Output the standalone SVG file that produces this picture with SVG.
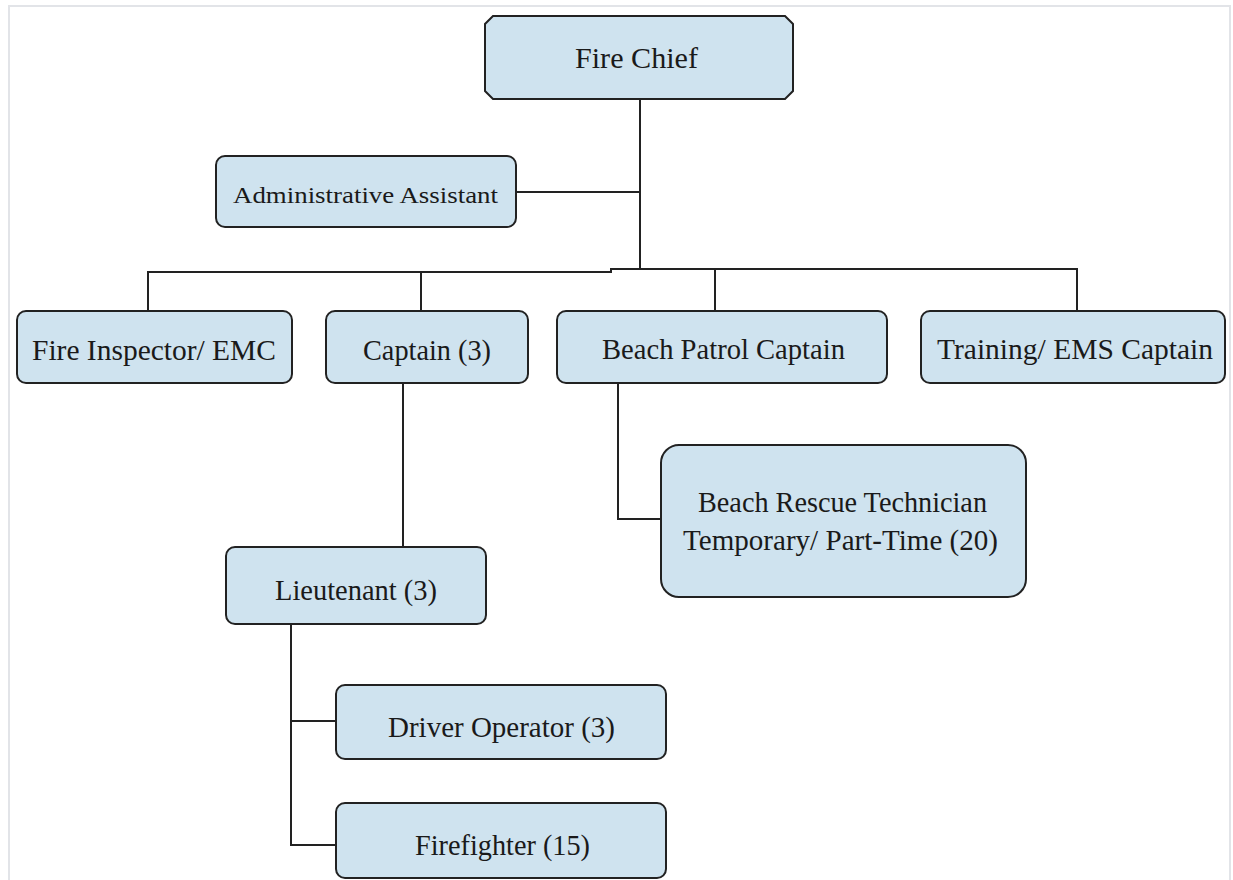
<svg xmlns="http://www.w3.org/2000/svg" width="1233" height="880" viewBox="0 0 1233 880">
  <style>
    .box { fill: #cfe3ef; stroke: #222; stroke-width: 2; }
    .lbl { font-family: "Liberation Serif", "DejaVu Serif", serif; font-size: 29px; fill: #1a1a1a; text-anchor: start; }
    .sm { font-size: 24px; }
    .wire { fill: none; stroke: #222; stroke-width: 2; }
  </style>
  <rect x="0" y="0" width="1233" height="880" fill="#ffffff"/>
  <!-- page frame -->
  <path d="M9,880 V6 H1230 V880" fill="none" stroke="#e2e4e8" stroke-width="2"/>

  <g id="connectors">
    <path class="wire" d="M640,99 V269"/>
    <path class="wire" d="M516,192 H640"/>
    <path class="wire" d="M148,311 V272 H611 V269 H1077 V311"/>
    <path class="wire" d="M421,272 V311"/>
    <path class="wire" d="M715,269 V311"/>
    <path class="wire" d="M403,383 V547"/>
    <path class="wire" d="M618,383 V519 H661"/>
    <path class="wire" d="M291,624 V845 H336"/>
    <path class="wire" d="M291,721 H336"/>
  </g>

  <g id="fire-chief">
    <path class="box" d="M493,16 H785 L793,24 V91 L785,99 H493 L485,91 V24 Z"/>
    <text class="lbl" x="575" y="68" textLength="123" lengthAdjust="spacingAndGlyphs">Fire Chief</text>
  </g>
  <g id="admin-assistant">
    <rect class="box" x="216" y="156" width="300" height="71" rx="9"/>
    <text class="lbl sm" x="233" y="203" textLength="265" lengthAdjust="spacingAndGlyphs">Administrative Assistant</text>
  </g>
  <g id="fire-inspector">
    <rect class="box" x="17" y="311" width="275" height="72" rx="9"/>
    <text class="lbl" x="32" y="360" textLength="244" lengthAdjust="spacingAndGlyphs">Fire Inspector/  EMC</text>
  </g>
  <g id="captain">
    <rect class="box" x="326" y="311" width="202" height="72" rx="9"/>
    <text class="lbl" x="363" y="360" textLength="128" lengthAdjust="spacingAndGlyphs">Captain (3)</text>
  </g>
  <g id="beach-patrol-captain">
    <rect class="box" x="557" y="311" width="330" height="72" rx="9"/>
    <text class="lbl" x="602" y="359" textLength="243" lengthAdjust="spacingAndGlyphs">Beach Patrol Captain</text>
  </g>
  <g id="training-ems-captain">
    <rect class="box" x="921" y="311" width="304" height="72" rx="9"/>
    <text class="lbl" x="937" y="359" textLength="276" lengthAdjust="spacingAndGlyphs">Training/  EMS Captain</text>
  </g>
  <g id="beach-rescue-technician">
    <rect class="box" x="661" y="445" width="365" height="152" rx="18"/>
    <text class="lbl" x="698" y="512" textLength="289" lengthAdjust="spacingAndGlyphs">Beach Rescue Technician</text>
    <text class="lbl" x="683" y="550" textLength="315" lengthAdjust="spacingAndGlyphs">Temporary/  Part-Time (20)</text>
  </g>
  <g id="lieutenant">
    <rect class="box" x="226" y="547" width="260" height="77" rx="9"/>
    <text class="lbl" x="275" y="600" textLength="162" lengthAdjust="spacingAndGlyphs">Lieutenant (3)</text>
  </g>
  <g id="driver-operator">
    <rect class="box" x="336" y="685" width="330" height="74" rx="9"/>
    <text class="lbl" x="388" y="737" textLength="227" lengthAdjust="spacingAndGlyphs">Driver Operator (3)</text>
  </g>
  <g id="firefighter">
    <rect class="box" x="336" y="803" width="330" height="75" rx="9"/>
    <text class="lbl" x="415" y="855" textLength="175" lengthAdjust="spacingAndGlyphs">Firefighter (15)</text>
  </g>
</svg>
